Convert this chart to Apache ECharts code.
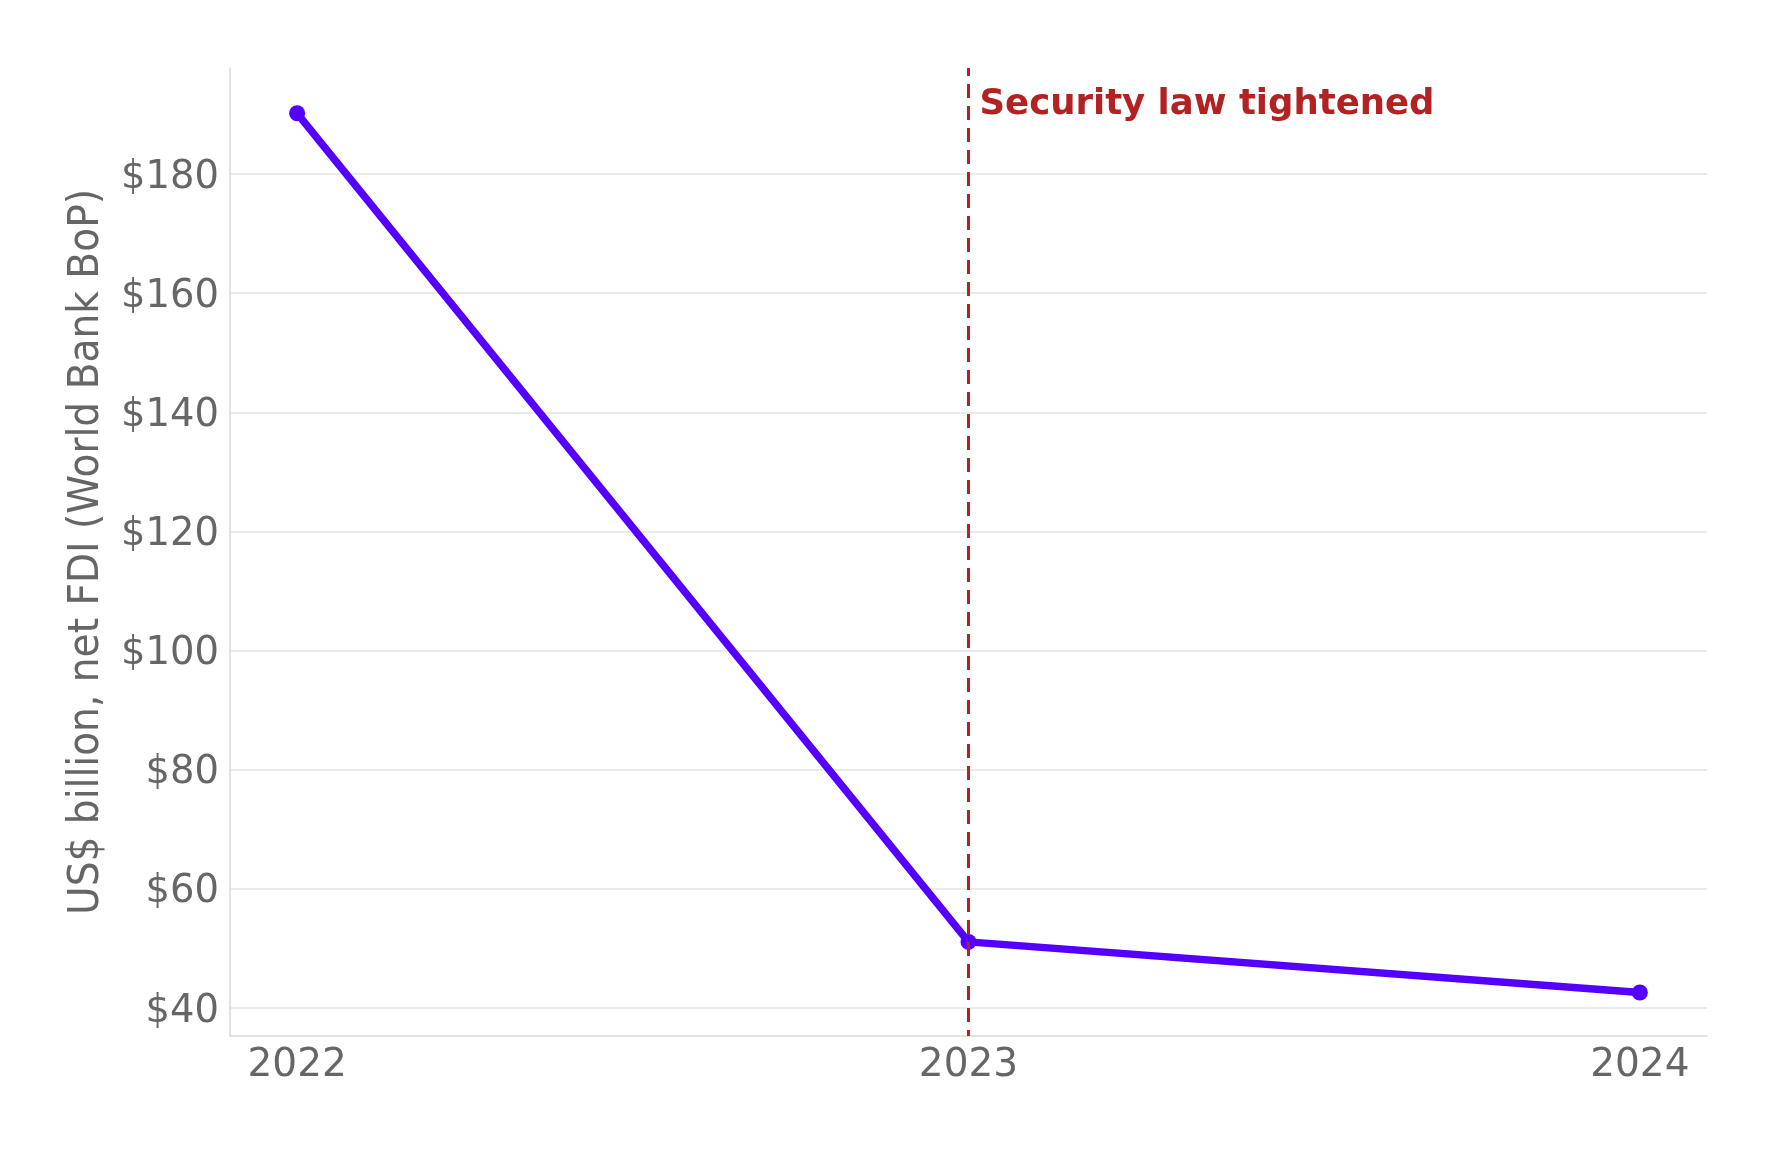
<!DOCTYPE html>
<html>
<head>
<meta charset="utf-8">
<title>Net FDI</title>
<script src="https://cdn.jsdelivr.net/npm/echarts@6/dist/echarts.min.js"></script>
<style>
  html, body { margin: 0; padding: 0; background: #fff; }
  #main { width: 1776px; height: 1155px; }
</style>
</head>
<body>
<div id="main"></div>
<script>
// data
var years = [2022, 2023, 2024];
var fdi = [190.2, 51.1, 42.6];
var yTicks = [40, 60, 80, 100, 120, 140, 160, 180];
var eventYear = 2023;
var eventText = 'Security law tightened';

var font = 'DejaVu Sans';
var gray = '#666666';

var chart = echarts.init(document.getElementById('main'));
chart.setOption({
    backgroundColor: '#ffffff',
    animation: false,
    grid: {
        left: 230,
        right: 69,
        top: 68,
        bottom: 119,
        outerBoundsMode: 'none'
    },
    xAxis: {
        type: 'value',
        min: 2021.9,
        max: 2024.1,
        axisLine: { show: true, lineStyle: { color: '#d9d9d5', width: 1.5 } },
        axisTick: { show: false, customValues: years },
        splitLine: { show: false },
        axisLabel: {
            customValues: years,
            formatter: function (v) { return String(v); },
            color: gray,
            fontFamily: font,
            fontSize: 39,
            margin: 10
        }
    },
    yAxis: {
        type: 'value',
        min: 35.3,
        max: 197.8,
        name: 'US$ billion, net FDI (World Bank BoP)',
        nameLocation: 'middle',
        nameGap: 121,
        nameTextStyle: {
            color: gray,
            fontFamily: 'DejaVu Sans Condensed, DejaVu Sans',
            fontSize: 43.5
        },
        axisLine: { show: true, lineStyle: { color: '#d9d9d5', width: 1.5 } },
        axisTick: { show: false, customValues: yTicks },
        splitLine: { show: true, lineStyle: { color: '#e3e3df', width: 1.5 } },
        axisLabel: {
            customValues: yTicks,
            formatter: function (v) { return '{v|$' + v + '}'; },
            rich: {
                v: {
                    color: gray,
                    fontFamily: font,
                    fontSize: 38.5,
                    padding: [7, 0, 0, 0]
                }
            },
            margin: 11
        }
    },
    series: [
        {
            name: 'Net FDI',
            type: 'line',
            data: years.map(function (y, i) { return [y, fdi[i]]; }),
            symbol: 'circle',
            symbolSize: 16,
            lineStyle: { color: '#5500ff', width: 7.5 },
            itemStyle: { color: '#5500ff' },
            z: 3,
            markLine: {
                silent: true,
                symbol: 'none',
                label: { show: false },
                lineStyle: { color: '#b22222', width: 3, type: [14, 8], dashOffset: 8 },
                data: [{ xAxis: eventYear }],
                z: 4
            },
            markPoint: {
                silent: true,
                symbol: 'circle',
                symbolSize: 0,
                data: [{ coord: [eventYear, 191.6] }],
                label: {
                    show: true,
                    position: 'right',
                    distance: 11,
                    formatter: eventText,
                    color: '#b22222',
                    fontFamily: font,
                    fontWeight: 'bold',
                    fontSize: 35.5
                }
            }
        }
    ]
});
</script>
</body>
</html>
